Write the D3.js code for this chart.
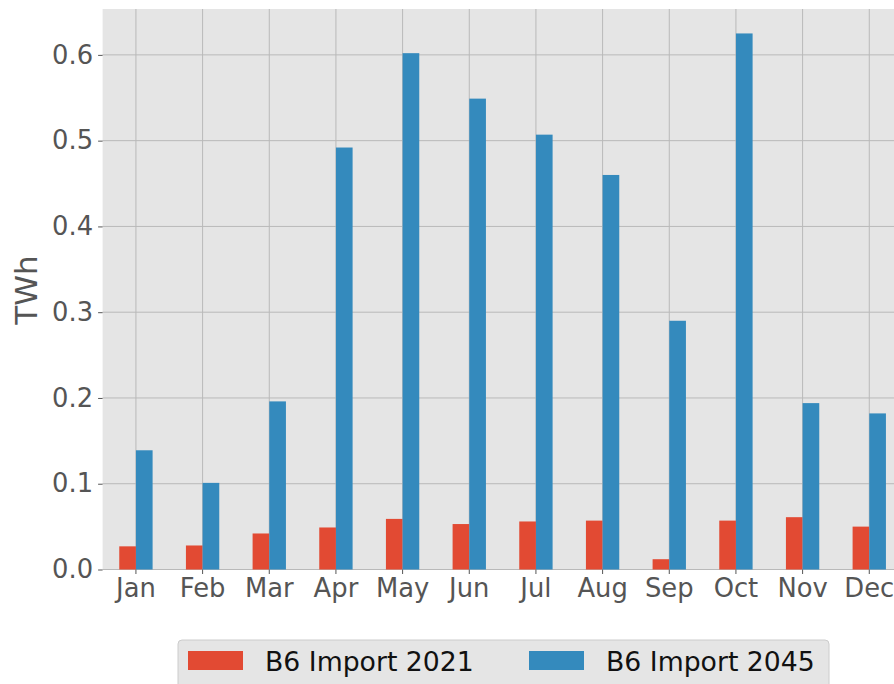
<!DOCTYPE html>
<html>
<head>
<meta charset="utf-8">
<script src="https://cdn.jsdelivr.net/npm/d3@7"></script>
<style>
  html, body { margin: 0; padding: 0; background: #fff; }
  svg { display: block; font-family: "DejaVu Sans", sans-serif; }
</style>
</head>
<body>
<svg id="chart" width="894" height="684"></svg>
<script>
const months = ["Jan","Feb","Mar","Apr","May","Jun","Jul","Aug","Sep","Oct","Nov","Dec"];
const import2021 = [0.027,0.028,0.042,0.049,0.059,0.053,0.056,0.057,0.012,0.057,0.061,0.050];
const import2045 = [0.139,0.101,0.196,0.492,0.602,0.549,0.507,0.460,0.290,0.625,0.194,0.182];
const seriesNames = ["B6 Import 2021","B6 Import 2045"];
const seriesColors = ["#E24A33","#348ABD"];
const yTicks = [0.0,0.1,0.2,0.3,0.4,0.5,0.6];

const svg = d3.select("#chart");
const plot = {left: 102.6, right: 902.6, top: 9, bottom: 569.5};

const x = d3.scaleBand().domain(months).range([plot.left, plot.right]).paddingInner(0).paddingOuter(0);
const y = d3.scaleLinear().domain([0, 0.6535]).range([plot.bottom, plot.top]);
const bw = x.bandwidth();

// background
svg.append("rect").attr("x", plot.left).attr("y", plot.top)
  .attr("width", plot.right - plot.left).attr("height", plot.bottom - plot.top)
  .attr("fill", "#E5E5E5");

// grid
const grid = svg.append("g");
grid.selectAll("line.h").data(yTicks).join("line")
  .attr("x1", plot.left).attr("x2", plot.right)
  .attr("y1", d => y(d)).attr("y2", d => y(d))
  .attr("stroke", "#b9b9b9").attr("stroke-width", 1);
grid.selectAll("line.v").data(months).join("line")
  .attr("y1", plot.top).attr("y2", plot.bottom)
  .attr("x1", d => x(d) + bw/2).attr("x2", d => x(d) + bw/2)
  .attr("stroke", "#b9b9b9").attr("stroke-width", 1);

// bars
const series = [import2021, import2045];
series.forEach((vals, si) => {
  svg.append("g").selectAll("rect").data(months).join("rect")
    .attr("x", (m) => x(m) + bw/2 + (si - 1) * bw * 0.25)
    .attr("width", bw * 0.25)
    .attr("y", (m, i) => y(vals[i]))
    .attr("height", (m, i) => y(0) - y(vals[i]))
    .attr("fill", seriesColors[si]);
});

// axes
const yAxis = d3.axisLeft(y).tickValues(yTicks).tickFormat(d3.format(".1f")).tickSize(4.5).tickPadding(5);
const gy = svg.append("g").attr("transform", `translate(${plot.left},0)`).call(yAxis);
gy.select(".domain").remove();
gy.selectAll(".tick line").attr("stroke", "#555").attr("stroke-width", 1);
gy.selectAll(".tick text").attr("fill", "#555").style("font-size", "25.8px")
  .style("font-family", "DejaVu Sans");

const xAxis = d3.axisBottom(x).tickSize(4.5).tickPadding(5);
const gx = svg.append("g").attr("transform", `translate(0,${plot.bottom})`).call(xAxis);
gx.select(".domain").remove();
gx.selectAll(".tick line").attr("stroke", "#555").attr("stroke-width", 1);
gx.selectAll(".tick text").attr("fill", "#555").style("font-size", "25.8px")
  .style("font-family", "DejaVu Sans");

// y label
svg.append("text")
  .attr("transform", "translate(37,290) rotate(-90)")
  .attr("text-anchor", "middle")
  .attr("fill", "#555")
  .style("font-size", "31px")
  .text("TWh");

// legend
const lg = svg.append("g");
lg.append("rect").attr("x", 178).attr("y", 640).attr("width", 651).attr("height", 70)
  .attr("rx", 4).attr("fill", "#E5E5E5").attr("stroke", "#cccccc").attr("stroke-width", 1);
const legendX = [188, 529];
seriesNames.forEach((name, i) => {
  lg.append("rect").attr("x", legendX[i]).attr("y", 651).attr("width", 55).attr("height", 19)
    .attr("fill", seriesColors[i]);
  lg.append("text").attr("x", legendX[i] + 77).attr("y", 671)
    .attr("fill", "#111").style("font-size", "26.7px").text(name);
});
</script>
</body>
</html>
